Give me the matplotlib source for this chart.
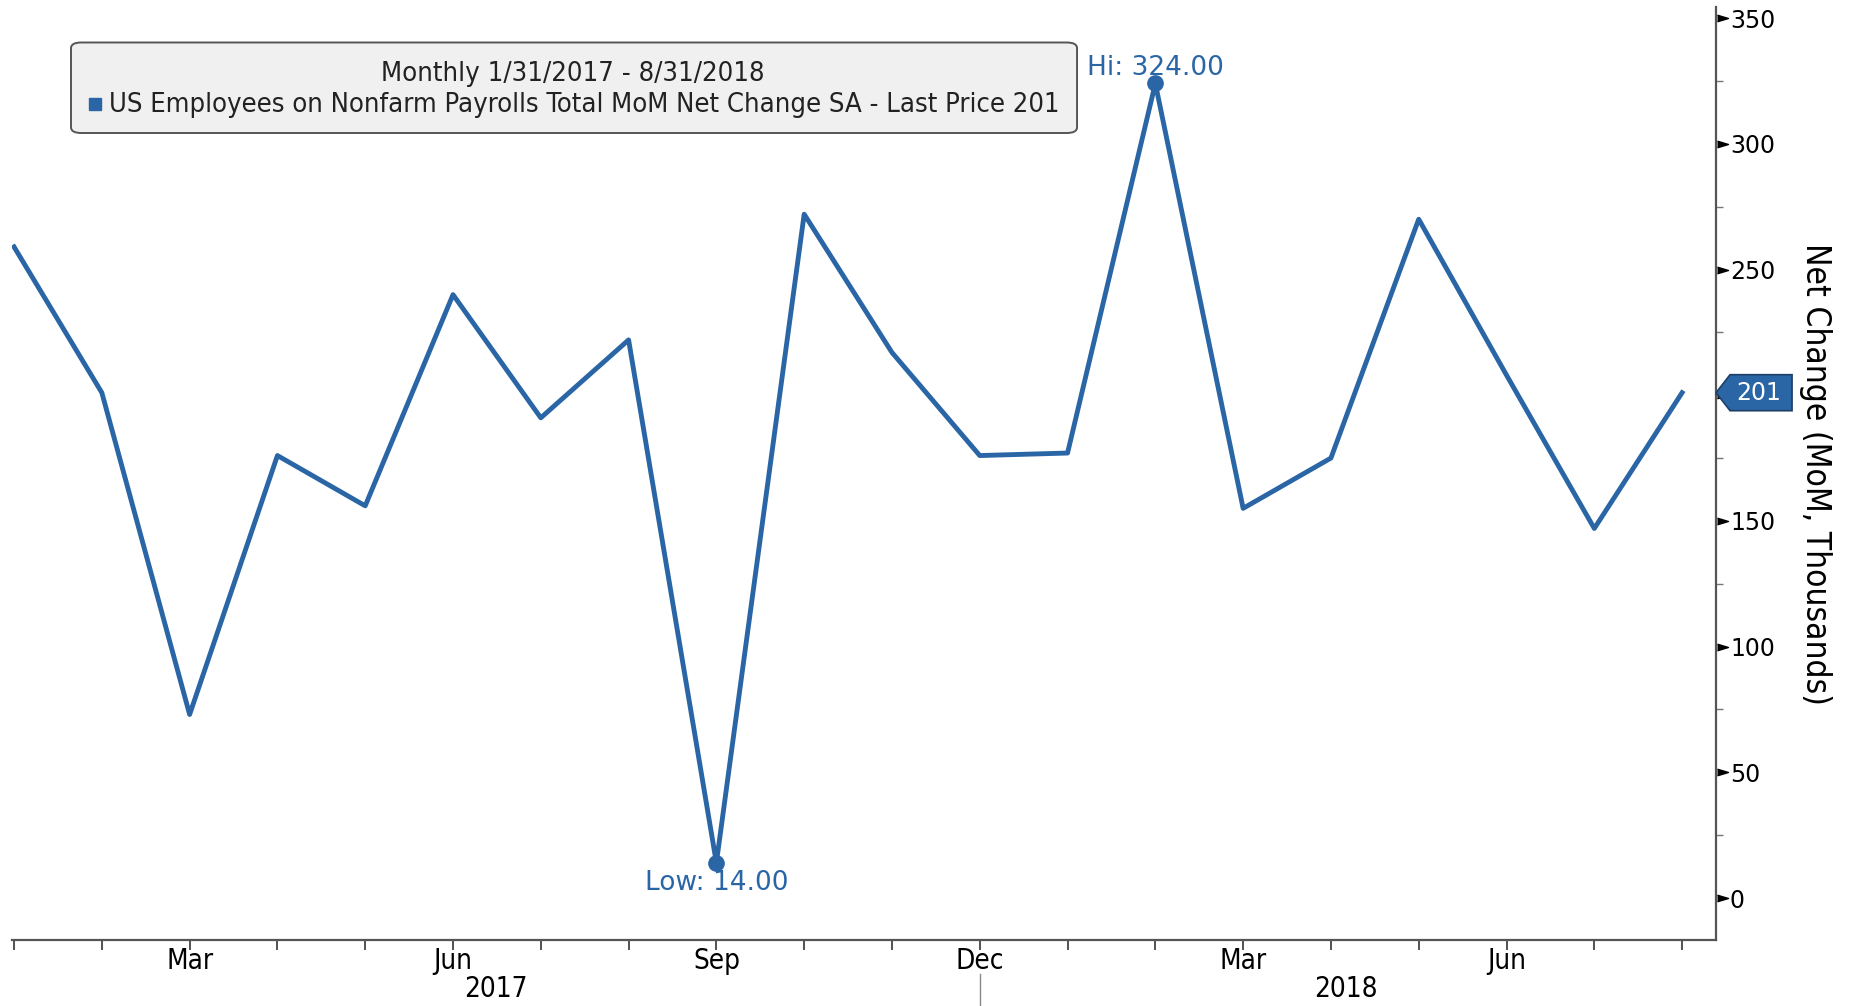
import numpy as np
import matplotlib.pyplot as plt
import matplotlib.transforms as mtransforms
from matplotlib import font_manager as fm
from matplotlib.patches import FancyBboxPatch, Polygon

# monthly nonfarm payrolls net change, Jan 2017 - Aug 2018
months = ["Jan", "Feb", "Mar", "Apr", "May", "Jun", "Jul", "Aug", "Sep", "Oct", "Nov", "Dec",
          "Jan", "Feb", "Mar", "Apr", "May", "Jun", "Jul", "Aug"]
values = [259, 201, 73, 176, 156, 240, 191, 222, 14, 272, 217, 176,
          177, 324, 155, 175, 270, 208, 147, 201]
shown_months = ["Mar", "Jun", "Sep", "Dec"]
years = ["2017", "2018"]

blue = "#2a66a6"


def pick_narrow():
    fonts = fm.fontManager.ttflist
    names = {f.name for f in fonts}
    if "Liberation Sans Narrow" in names:
        return dict(family="Liberation Sans Narrow")
    for fam in ["DejaVu Sans", "Noto Sans", "Open Sans", "Roboto"]:
        for f in fonts:
            if f.name == fam and f.stretch == "condensed" and f.weight in (400, "normal"):
                return dict(family=fam, stretch="condensed")
    return dict(family="Liberation Sans")


narrow = pick_narrow()

fig = plt.figure(figsize=(18.51, 10.06), dpi=100)
ax = fig.add_axes([0.0065, 0.0656, 0.9206, 0.9274])
ax_w = 0.9206 * 1851  # axes width in px

x = np.arange(len(values))
ax.plot(x, values, color=blue, lw=3.5)

lo = int(np.argmin(values))
hi = int(np.argmax(values))
ax.plot([x[lo], x[hi]], [values[lo], values[hi]], "o", color=blue, ms=11)
ax.annotate(f"Hi: {values[hi]:.2f}", (x[hi], values[hi]), xytext=(0, 2),
            textcoords="offset points", ha="center", va="bottom", color=blue, fontsize=19)
ax.annotate(f"Low: {values[lo]:.2f}", (x[lo], values[lo]), xytext=(0, -5),
            textcoords="offset points", ha="center", va="top", color=blue, fontsize=19)

ax.set_xlim(-0.023, len(values) - 1 + 0.387)
ax.set_ylim(-16.7, 354.4)

for s in ["left", "top"]:
    ax.spines[s].set_visible(False)
for s in ["bottom", "right"]:
    ax.spines[s].set_color("#555555")
    ax.spines[s].set_linewidth(1.6)

ax.set_xticks(x)
ax.set_xticklabels([m if m in shown_months else "" for m in months], fontsize=20, **narrow)
ax.tick_params(axis="x", direction="out", length=7, width=1.3, color="#444444", pad=-2)

last = values[-1]
ax.yaxis.tick_right()
ax.yaxis.set_label_position("right")
yt = np.arange(0, 351, 50)
ax.set_yticks(yt)
# the last-price tag covers the label next to it
ax.set_yticklabels([str(v) if abs(v - last) > 15 else "" for v in yt])
ax.set_yticks(np.arange(25, 351, 50), minor=True)
ax.tick_params(axis="y", which="major", direction="out", length=0, labelsize=17, pad=10)
ax.tick_params(axis="y", which="minor", direction="out", length=5, width=1, color="#777777")
# flag-shaped major ticks
ytrans = ax.get_yaxis_transform()
flag = [(0, 0.3), (1, 0), (0, -0.3)]
ax.plot(np.ones(len(yt)), yt, ls="none", marker=flag, ms=15.8, color="black",
        transform=ytrans + mtransforms.ScaledTranslation(1 / 100, 0, fig.dpi_scale_trans),
        clip_on=False)
ax.set_ylabel("Net Change (MoM, Thousands)", rotation=270, fontsize=24, labelpad=29,
              va="center", **narrow)

# year labels and separator
trans = mtransforms.blended_transform_factory(ax.transData, ax.transAxes)
ax.text(5.49, -0.053, years[0], transform=trans, ha="center", va="center", fontsize=20, **narrow)
ax.text(15.17, -0.053, years[1], transform=trans, ha="center", va="center", fontsize=20, **narrow)
ax.plot([11, 11], [-0.036, -0.072], transform=trans, color="#888888", lw=1, clip_on=False)

# last price tag
h = 18 / 2.514
tag = Polygon([(1, last), (1 + 14 / ax_w, last + h), (1 + 76 / ax_w, last + h),
               (1 + 76 / ax_w, last - h), (1 + 14 / ax_w, last - h)], closed=True,
              transform=ytrans, fc=blue, ec="#1d3f66", lw=1.2, clip_on=False, zorder=10)
ax.add_patch(tag)
ax.text(1 + 43 / ax_w, last, f"{last}", transform=ytrans, ha="center", va="center",
        color="white", fontsize=17, zorder=11)

# legend box
ax.add_patch(FancyBboxPatch((0.0346, 0.865), 0.5904, 0.097, transform=ax.transAxes,
                            boxstyle="round,pad=0,rounding_size=0.006",
                            fc="#f0f0f0", ec="#555555", lw=1.4, zorder=5))
ax.text(0.329, 0.9287, "Monthly 1/31/2017 - 8/31/2018", transform=ax.transAxes,
        ha="center", va="center", fontsize=19.7, color="#222222", zorder=6, **narrow)
ax.text(0.0567, 0.895, "US Employees on Nonfarm Payrolls Total MoM Net Change SA - Last Price 201",
        transform=ax.transAxes, ha="left", va="center", fontsize=19.6, color="#222222",
        zorder=6, **narrow)
ax.plot([0.0484], [0.896], "s", color=blue, ms=9, transform=ax.transAxes, zorder=6)

fig.savefig("out.png", dpi=100)
